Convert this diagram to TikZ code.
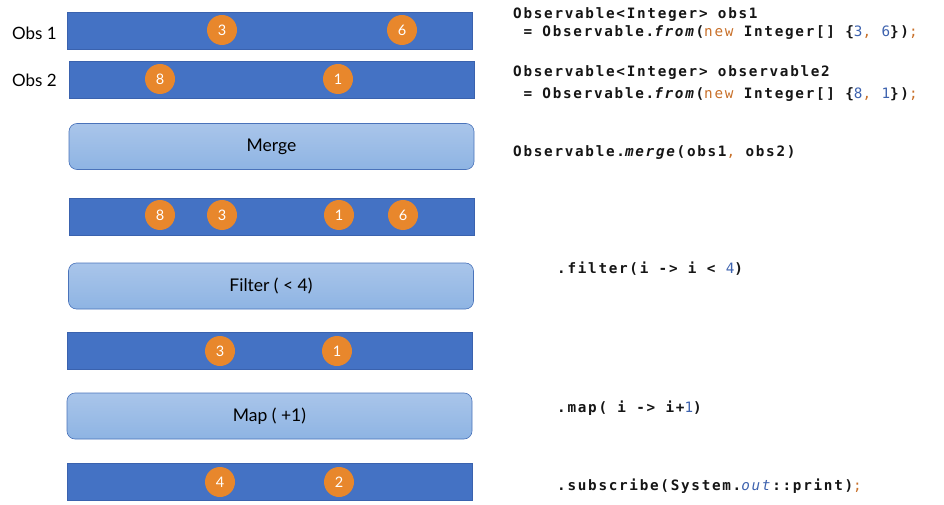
\documentclass[tikz,border=0pt]{standalone}
\usepackage{fontspec}
\setmainfont{Lato}
\newfontfamily\codefont[LetterSpace=12]{DejaVu Sans Mono}
\definecolor{barblue}{HTML}{4472C4}
\definecolor{barline}{HTML}{3A62AE}
\definecolor{dotorange}{HTML}{E8872C}
\definecolor{boxtop}{HTML}{A9C5EA}
\definecolor{boxbot}{HTML}{8EB4E3}
\definecolor{boxline}{HTML}{4A73BA}
\definecolor{kwor}{HTML}{C8702A}
\definecolor{numbl}{HTML}{3D62AE}
\definecolor{codeink}{HTML}{151515}
\newcommand{\kwd}[1]{\textcolor{kwor}{\mdseries#1}}
\newcommand{\nmb}[1]{\textcolor{numbl}{\mdseries#1}}
\begin{document}
\begin{tikzpicture}[x=1pt,y=-1pt,
  stream/.style={fill=barblue, draw=barline, line width=0.4pt, minimum width=405pt, minimum height=37pt, inner sep=0pt},
  marble/.style={circle, fill=dotorange, minimum size=30pt, inner sep=0pt, text=white, font=\fontsize{14.5}{14.5}\selectfont},
  opbox/.style={rounded corners=8pt, top color=boxtop, bottom color=boxbot, draw=boxline, line width=0.6pt, minimum width=405pt, minimum height=46pt, inner sep=0pt, font=\fontsize{17.5}{17.5}\selectfont, text=black},
  lbl/.style={anchor=base west, inner sep=0pt, font=\fontsize{17}{17}\selectfont, text=black},
  code/.style={anchor=base west, inner sep=0pt, font=\codefont\bfseries\fontsize{14.3}{14.3}\selectfont, text=codeink}]
\useasboundingbox (0,0) rectangle (944,505);

% source streams
\node[lbl] (lab1) at (12,40) {Obs 1};
\node[lbl] (lab2) at (12,87) {Obs 2};
\node[stream] (s1) at (269.5,30.5) {};
\node[stream] (s2) at (271.5,79.5) {};
\node[marble] (s1a) at (222,30) {3};
\node[marble] (s1b) at (402,30) {6};
\node[marble] (s2a) at (160,79) {8};
\node[marble] (s2b) at (338,79) {1};

% merge
\node[opbox] (merge) at (271.5,146.5) {Merge};
\node[stream] (s3) at (271.5,217) {};
\node[marble] (s3a) at (160,215) {8};
\node[marble] (s3b) at (222,215) {3};
\node[marble] (s3c) at (339,215) {1};
\node[marble] (s3d) at (403,215) {6};

% filter
\node[opbox] (filter) at (271,286) {Filter ( < 4)};
\node[stream] (s4) at (269.5,350.5) {};
\node[marble] (s4a) at (220,351) {3};
\node[marble] (s4b) at (337,351) {1};

% map
\node[opbox] (map) at (269.5,416) {Map ( +1)};
\node[stream] (s5) at (269.5,482) {};
\node[marble] (s5a) at (220,482) {4};
\node[marble] (s5b) at (339,482) {2};

% code listing
\node[code] (c1) at (513,19) {Observable<Integer> obs1};
\node[code] (c2) at (513,37) {\ =\ Observable.\textit{from}(\kwd{new} Integer[] \{\nmb{3}\kwd{,} \nmb{6}\})\kwd{;}};
\node[code] (c3) at (513,77) {Observable<Integer> observable2};
\node[code] (c4) at (513,99) {\ =\ Observable.\textit{from}(\kwd{new} Integer[] \{\nmb{8}\kwd{,} \nmb{1}\})\kwd{;}};
\node[code] (c5) at (513,157) {Observable.\textit{merge}(obs1\kwd{,} obs2)};
\node[code] (c6) at (557,273) {.filter(i -> i < \nmb{4})};
\node[code] (c7) at (557,412) {.map( i -> i+\nmb{1})};
\node[code] (c8) at (557,490) {.subscribe(System.\nmb{\textit{out}}::print)\kwd{;}};
\end{tikzpicture}
\end{document}
